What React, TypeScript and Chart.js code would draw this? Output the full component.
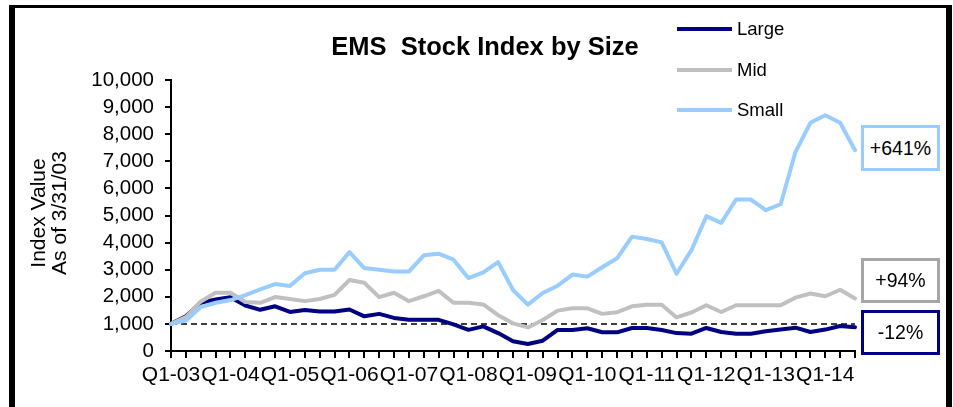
import React, { useEffect, useRef } from "react";
import { Chart, registerables } from "chart.js";

Chart.register(...registerables);

const quarters = [
  "Q1-03", "Q2-03", "Q3-03", "Q4-03",
  "Q1-04", "Q2-04", "Q3-04", "Q4-04",
  "Q1-05", "Q2-05", "Q3-05", "Q4-05",
  "Q1-06", "Q2-06", "Q3-06", "Q4-06",
  "Q1-07", "Q2-07", "Q3-07", "Q4-07",
  "Q1-08", "Q2-08", "Q3-08", "Q4-08",
  "Q1-09", "Q2-09", "Q3-09", "Q4-09",
  "Q1-10", "Q2-10", "Q3-10", "Q4-10",
  "Q1-11", "Q2-11", "Q3-11", "Q4-11",
  "Q1-12", "Q2-12", "Q3-12", "Q4-12",
  "Q1-13", "Q2-13", "Q3-13", "Q4-13",
  "Q1-14", "Q2-14", "Q3-14",
];

const xTickLabels = [
  "Q1-03", "Q1-04", "Q1-05", "Q1-06", "Q1-07", "Q1-08",
  "Q1-09", "Q1-10", "Q1-11", "Q1-12", "Q1-13", "Q1-14",
];

const largeValues = [
  1000, 1280, 1780, 1900, 1980, 1680, 1520, 1650, 1440, 1510, 1460, 1460,
  1530, 1280, 1370, 1220, 1150, 1150, 1150, 980, 780, 910, 660, 360,
  260, 380, 775, 775, 840, 690, 690, 850, 850, 775, 660, 640,
  850, 700, 640, 640, 730, 790, 860, 700, 790, 920, 880,
];

const midValues = [
  1000, 1250, 1830, 2150, 2150, 1810, 1780, 1990, 1920, 1840, 1920, 2070,
  2620, 2520, 1990, 2150, 1840, 2020, 2220, 1780, 1780, 1720, 1320, 1020,
  870, 1145, 1490, 1575, 1575, 1370, 1430, 1650, 1710, 1710, 1240, 1420,
  1690, 1440, 1690, 1690, 1690, 1690, 1970, 2120, 2020, 2260, 1940,
];

const smallValues = [
  1000, 1120, 1620, 1780, 1880, 2060, 2270, 2470, 2400, 2870, 3000, 3000,
  3650, 3060, 3000, 2930, 2930, 3530, 3590, 3370, 2690, 2900, 3280, 2250,
  1710, 2140, 2410, 2820, 2745, 3090, 3420, 4220, 4135, 4010, 2850, 3720,
  4975, 4730, 5590, 5590, 5195, 5415, 7350, 8420, 8700, 8420, 7410,
];

const seriesNames = ["Large", "Mid", "Small"];
const BASELINE = 1000;
const Y_MIN = 0;
const Y_MAX = 10000;
const Y_STEP = 1000;

const NAVY = "#000080";
const GRAY = "#C0C0C0";
const LIGHT = "#99CCFF";
const FONT = "'Liberation Sans', Arial, sans-serif";

function pctChange(values: number[]): string {
  const p = Math.round((values[values.length - 1] / values[0] - 1) * 100);
  return (p > 0 ? "+" : "") + p + "%";
}

const baselinePlugin = {
  id: "baseline",
  beforeDatasetsDraw(chart: any) {
    const { ctx, chartArea, scales } = chart;
    const y = scales.y.getPixelForValue(BASELINE);
    ctx.save();
    ctx.strokeStyle = "#000";
    ctx.lineWidth = 1.5;
    ctx.setLineDash([6, 4]);
    ctx.beginPath();
    ctx.moveTo(chartArea.left, y);
    ctx.lineTo(chartArea.right, y);
    ctx.stroke();
    ctx.restore();
  },
};

export default function App() {
  const canvasRef = useRef<HTMLCanvasElement | null>(null);

  useEffect(() => {
    const canvas = canvasRef.current;
    if (!canvas) return;
    const chart = new Chart(canvas, {
      type: "line",
      data: {
        labels: quarters,
        datasets: [
          {
            label: seriesNames[0],
            data: largeValues,
            borderColor: NAVY,
            backgroundColor: NAVY,
            borderWidth: 4,
            pointRadius: 0,
            tension: 0,
            order: 3,
          },
          {
            label: seriesNames[1],
            data: midValues,
            borderColor: GRAY,
            backgroundColor: GRAY,
            borderWidth: 4,
            pointRadius: 0,
            tension: 0,
            order: 2,
          },
          {
            label: seriesNames[2],
            data: smallValues,
            borderColor: LIGHT,
            backgroundColor: LIGHT,
            borderWidth: 4,
            pointRadius: 0,
            tension: 0,
            order: 1,
          },
        ],
      },
      options: {
        animation: false,
        responsive: true,
        maintainAspectRatio: false,
        layout: { padding: { top: 80, right: 98, left: 0, bottom: 0 } },
        plugins: {
          legend: { display: false },
          title: { display: false },
          tooltip: { enabled: false },
        },
        elements: { line: { borderJoinStyle: "round", borderCapStyle: "round" } },
        scales: {
          x: {
            type: "category",
            offset: false,
            grid: {
              drawOnChartArea: false,
              drawTicks: true,
              tickLength: 7,
              color: "#000",
              lineWidth: 2,
            },
            border: { display: true, color: "#000", width: 2 },
            ticks: {
              autoSkip: false,
              maxRotation: 0,
              minRotation: 0,
              padding: 5,
              color: "#000",
              font: { family: FONT, size: 21 },
              callback: (_v: any, idx: number) =>
                xTickLabels.includes(quarters[idx]) ? quarters[idx] : "",
            },
            afterFit: (s: any) => {
              s.height = 56;
            },
          },
          y: {
            min: Y_MIN,
            max: Y_MAX,
            grid: {
              drawOnChartArea: false,
              drawTicks: true,
              tickLength: 6,
              color: "#000",
              lineWidth: 2,
            },
            border: { display: true, color: "#000", width: 2 },
            ticks: {
              autoSkip: false,
              stepSize: Y_STEP,
              padding: 11,
              color: "#000",
              font: { family: FONT, size: 20.5, lineHeight: 1.0 },
              callback: (v: any) => Number(v).toLocaleString("en-US"),
            },
            afterFit: (s: any) => {
              s.width = 171;
            },
          },
        },
      },
      plugins: [baselinePlugin],
    });
    return () => chart.destroy();
  }, []);

  const legendItems = [
    { name: seriesNames[0], color: NAVY, y: 29 },
    { name: seriesNames[1], color: GRAY, y: 70 },
    { name: seriesNames[2], color: LIGHT, y: 110 },
  ];

  const boxes = [
    { text: pctChange(smallValues), color: LIGHT, top: 125, height: 46 },
    { text: pctChange(midValues), color: "#A6A6A6", top: 258, height: 45 },
    { text: pctChange(largeValues), color: NAVY, top: 310, height: 45 },
  ];

  return (
    <div
      style={{
        position: "fixed",
        left: 0,
        top: 0,
        width: 953,
        height: 407,
        overflow: "hidden",
        background: "#fff",
        fontFamily: FONT,
        color: "#000",
      }}
    >
      <div style={{ position: "absolute", left: 0, top: 0, width: 953, height: 407 }}>
        <canvas ref={canvasRef} />
      </div>
      {/* outer frame */}
      <div
        style={{
          position: "absolute",
          left: 9,
          top: 5,
          width: 931,
          height: 430,
          borderLeft: "6px solid #000",
          borderRight: "6px solid #000",
          borderTop: "3px solid #000",
          pointerEvents: "none",
        }}
      />
      {/* title */}
      <div
        style={{
          position: "absolute",
          left: 485,
          top: 34,
          transform: "translateX(-50%)",
          fontSize: 25.5,
          lineHeight: "25px",
          fontWeight: "bold",
          whiteSpace: "pre",
        }}
      >
        {"EMS  Stock Index by Size"}
      </div>
      {/* y axis title */}
      <div
        style={{
          position: "absolute",
          left: 48,
          top: 213,
          transform: "translate(-50%, -50%) rotate(-90deg)",
          fontSize: 21,
          lineHeight: "21px",
          textAlign: "center",
          whiteSpace: "nowrap",
        }}
      >
        <div>Index Value</div>
        <div>As of 3/31/03</div>
      </div>
      {/* legend */}
      {legendItems.map((it) => (
        <div key={it.name}>
          <div
            style={{
              position: "absolute",
              left: 677,
              top: it.y - 2,
              width: 55,
              height: 4,
              background: it.color,
            }}
          />
          <div
            style={{
              position: "absolute",
              left: 737,
              top: it.y - 11,
              fontSize: 18.5,
              lineHeight: "22px",
            }}
          >
            {it.name}
          </div>
        </div>
      ))}
      {/* change boxes */}
      {boxes.map((b) => (
        <div
          key={b.text}
          style={{
            position: "absolute",
            left: 861,
            top: b.top,
            width: 79,
            height: b.height,
            boxSizing: "border-box",
            border: "3px solid " + b.color,
            background: "#fff",
            display: "flex",
            alignItems: "center",
            justifyContent: "center",
            fontSize: 19.5,
          }}
        >
          {b.text}
        </div>
      ))}
    </div>
  );
}
